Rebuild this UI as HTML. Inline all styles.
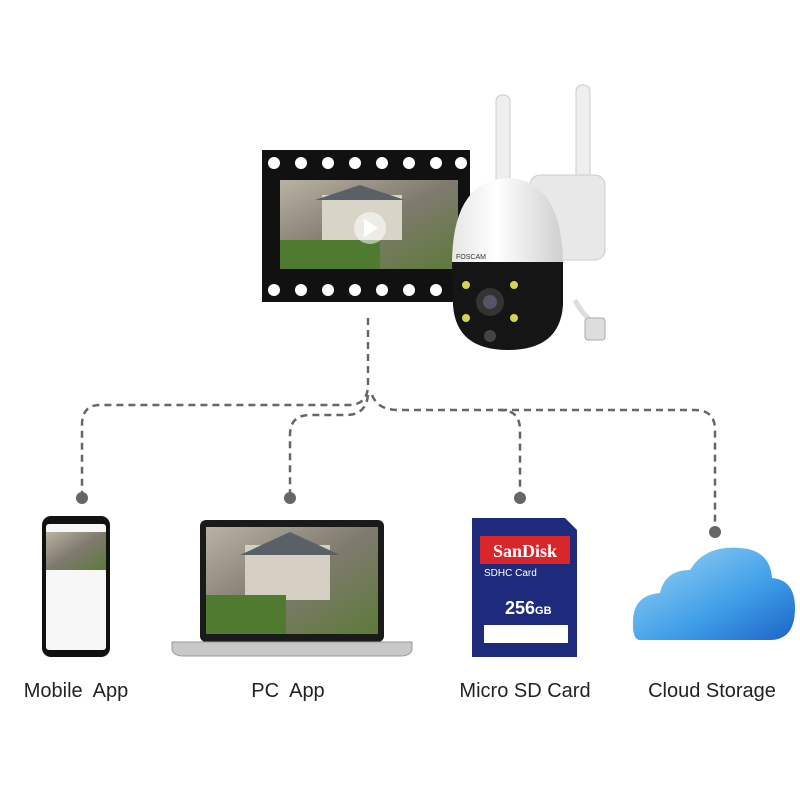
<!DOCTYPE html>
<html><head><meta charset="utf-8"><style>
html,body{margin:0;padding:0;background:#fff;width:800px;height:800px;overflow:hidden}
.l{position:absolute;top:680px;font:20px "Liberation Sans",sans-serif;color:#222;white-space:pre;transform:translateX(-50%)}
</style></head><body>
<svg width="800" height="800" style="position:absolute;left:0;top:0">
<defs>
<linearGradient id="scene" x1="0" y1="0" x2="1" y2="1"><stop offset="0" stop-color="#b9b2a4"/><stop offset="0.5" stop-color="#7f7a6e"/><stop offset="1" stop-color="#5d7a3a"/></linearGradient>
<linearGradient id="cl" x1="0" y1="0" x2="1" y2="1"><stop offset="0" stop-color="#9fd6f5"/><stop offset="0.6" stop-color="#3f9ee8"/><stop offset="1" stop-color="#1d63c7"/></linearGradient>
<linearGradient id="dome" x1="0" y1="0" x2="1" y2="0"><stop offset="0" stop-color="#e6e6e6"/><stop offset="0.4" stop-color="#fff"/><stop offset="1" stop-color="#cfcfcf"/></linearGradient>
</defs>
<!-- film strip -->
<rect x="262" y="150" width="208" height="152" fill="#111"/>
<g fill="#fff">
<circle cx="274" cy="163" r="6"/><circle cx="301" cy="163" r="6"/><circle cx="328" cy="163" r="6"/><circle cx="355" cy="163" r="6"/><circle cx="382" cy="163" r="6"/><circle cx="409" cy="163" r="6"/><circle cx="436" cy="163" r="6"/><circle cx="461" cy="163" r="6"/>
<circle cx="274" cy="290" r="6"/><circle cx="301" cy="290" r="6"/><circle cx="328" cy="290" r="6"/><circle cx="355" cy="290" r="6"/><circle cx="382" cy="290" r="6"/><circle cx="409" cy="290" r="6"/><circle cx="436" cy="290" r="6"/><circle cx="461" cy="290" r="6"/>
</g>
<rect x="280" y="180" width="178" height="89" fill="url(#scene)"/>
<rect x="322" y="195" width="80" height="45" fill="#d9d4c8"/>
<polygon points="315,200 360,185 405,200" fill="#5a6068"/>
<rect x="280" y="240" width="100" height="29" fill="#4f7a2f"/>
<circle cx="370" cy="228" r="16" fill="#fff" opacity="0.55"/>
<polygon points="364,219 364,237 378,228" fill="#fff"/>
<!-- camera -->
<rect x="496" y="95" width="14" height="95" rx="6" fill="#eee" stroke="#ccc"/>
<rect x="576" y="85" width="14" height="170" rx="6" fill="#eee" stroke="#ccc"/>
<rect x="530" y="175" width="75" height="85" rx="10" fill="#e8e8e8" stroke="#ccc"/>
<path d="M575,300 Q585,320 600,325" stroke="#ddd" stroke-width="5" fill="none"/>
<rect x="585" y="318" width="20" height="22" rx="3" fill="#ddd" stroke="#aaa"/>
<path d="M452,265 Q452,180 508,178 Q562,180 563,265 Z" fill="url(#dome)"/>
<path d="M452,262 L563,262 L563,305 Q560,350 508,350 Q456,350 453,305 Z" fill="#151515"/>
<circle cx="490" cy="302" r="14" fill="#333"/><circle cx="490" cy="302" r="7" fill="#556"/>
<circle cx="466" cy="285" r="4" fill="#cfd84a"/><circle cx="514" cy="285" r="4" fill="#cfd84a"/><circle cx="466" cy="318" r="4" fill="#cfd84a"/><circle cx="514" cy="318" r="4" fill="#cfd84a"/>
<circle cx="490" cy="336" r="6" fill="#444"/>
<text x="456" y="259" font-family="Liberation Sans" font-size="7" fill="#333">FOSCAM</text>
<!-- dashed lines -->
<g stroke="#666" stroke-width="2.5" fill="none" stroke-dasharray="7,5">
<path d="M368,318 V385 Q368,405 348,405 H100 Q82,405 82,425 V497"/>
<path d="M368,395 Q366,415 346,415 H310 Q290,415 290,435 V497"/>
<path d="M372,395 Q378,410 398,410 H500 Q520,410 520,430 V497"/>
<path d="M500,410 H695 Q715,410 715,430 V530"/>
</g>
<g fill="#666"><circle cx="82" cy="498" r="6"/><circle cx="290" cy="498" r="6"/><circle cx="520" cy="498" r="6"/><circle cx="715" cy="532" r="6"/></g>
<!-- phone -->
<rect x="42" y="516" width="68" height="141" rx="9" fill="#111"/>
<rect x="46" y="524" width="60" height="126" rx="3" fill="#f7f7f7"/>
<rect x="46" y="532" width="60" height="38" fill="url(#scene)"/>
<!-- laptop -->
<rect x="200" y="520" width="184" height="122" rx="6" fill="#1a1a1a"/>
<rect x="206" y="527" width="172" height="107" fill="url(#scene)"/>
<rect x="245" y="545" width="85" height="55" fill="#d4cfc2"/>
<polygon points="240,555 290,532 340,555" fill="#5a6068"/>
<rect x="206" y="595" width="80" height="39" fill="#4f7a2f"/>
<path d="M172,642 H412 V650 Q410,656 400,656 H184 Q174,656 172,650 Z" fill="#c8c8c8" stroke="#999"/>
<!-- SD card -->
<path d="M472,518 H565 L577,530 V657 H472 Z" fill="#1e2b7d"/>
<rect x="480" y="536" width="90" height="28" fill="#d8262c"/>
<text x="525" y="557" text-anchor="middle" font-family="Liberation Serif" font-weight="bold" font-size="18" fill="#fff">SanDisk</text>
<text x="484" y="576" font-family="Liberation Sans" font-size="10" fill="#fff">SDHC Card</text>
<text x="505" y="614" font-family="Liberation Sans" font-weight="bold" font-size="18" fill="#fff">256<tspan font-size="11">GB</tspan></text>
<rect x="484" y="625" width="84" height="18" fill="#fff"/>
<!-- cloud -->
<path d="M640,640 Q632,640 633,620 Q634,595 660,593 Q665,570 690,570 Q705,545 740,548 Q770,550 772,578 Q795,580 795,608 Q795,640 770,640 Z" fill="url(#cl)"/>
</svg>
<div class="l" style="left:76px">Mobile  App</div>
<div class="l" style="left:288px">PC  App</div>
<div class="l" style="left:525px">Micro SD Card</div>
<div class="l" style="left:712px">Cloud Storage</div>
</body></html>
